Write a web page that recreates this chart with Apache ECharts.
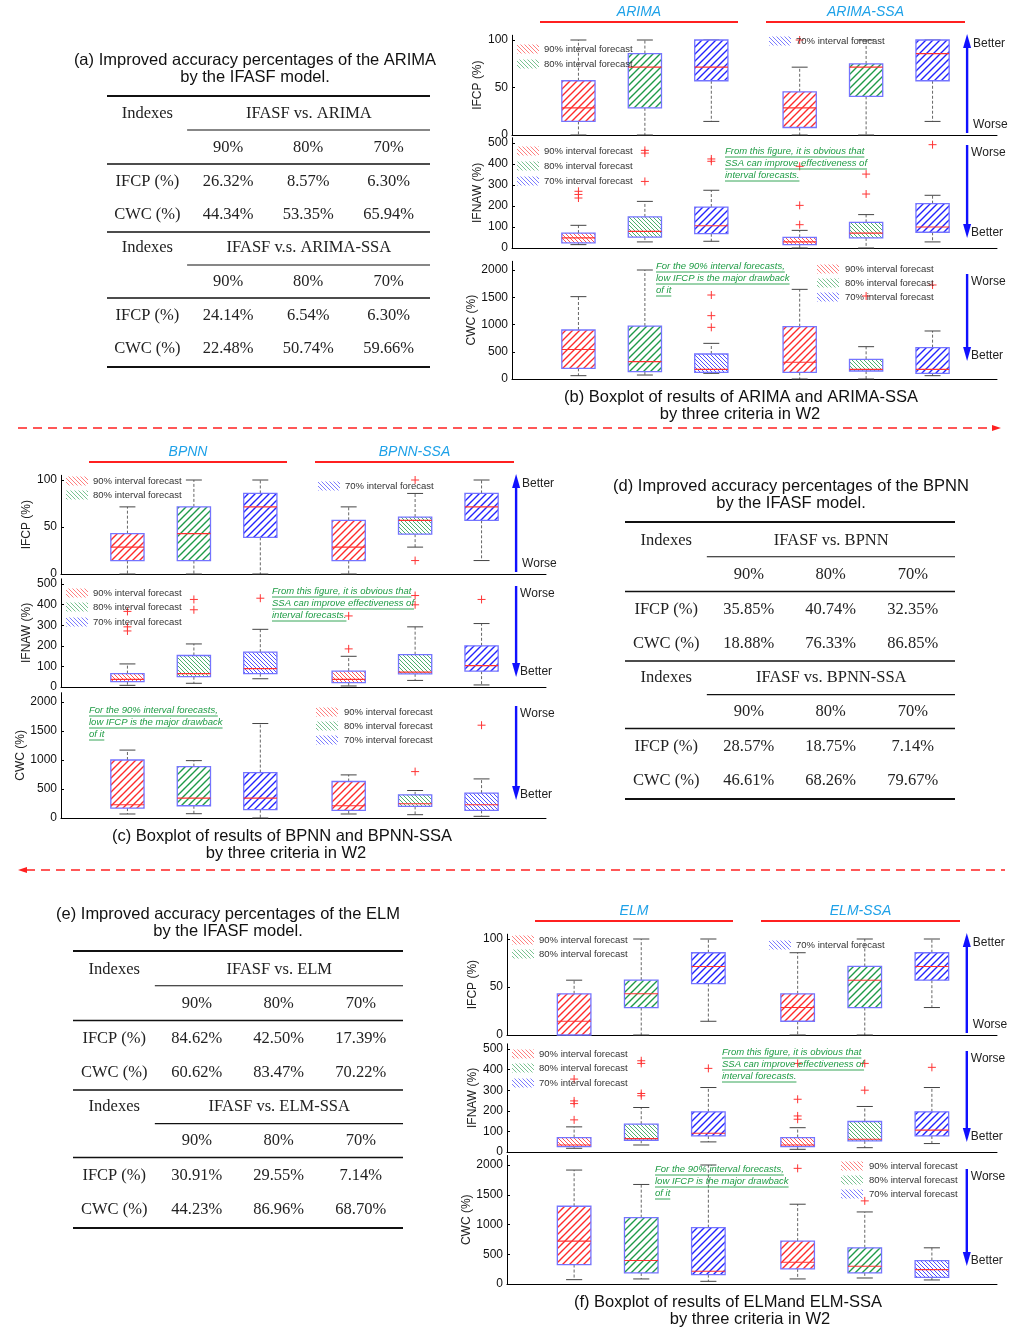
<!DOCTYPE html>
<html><head><meta charset="utf-8">
<script src="https://cdn.jsdelivr.net/npm/echarts@6/dist/echarts.min.js"></script>
<style>html,body{margin:0;padding:0;background:#fff}#c{width:1024px;height:1338px}</style>
</head><body><div id="c"></div><script>
// ================= DATA =================
const levels = ['90%', '80%', '70%'];
const criteria = ['IFCP (%)', 'IFNAW (%)', 'CWC (%)'];
const legendNames = ['90% interval forecast', '80% interval forecast', '70% interval forecast'];
// box rows: [min, Q1, median, Q3, max]; order: model 90/80/70, model-SSA 90/80/70
// outliers: [boxIndex, value]
const arimaIFCP = [[0,14.3,28.6,57.1,100],[0,28.6,71.4,85.7,100],[14.3,57.1,71.4,100,100],[0,7.9,28.6,45.5,71.4],[0,40.7,71.4,74.8,100],[14.3,57.1,85.7,100,100]];
const arimaIFCPOut = [[3,100]];
const arimaIFNAW = [[16,24,48,71,108],[29,52,79,148,222],[32,68,106,195,275],[0,16,29,51,84],[0,48,71,122,159],[29,75,100,211,251]];
const arimaIFNAWOut = [[0,238],[0,255],[0,270],[1,317],[1,452],[1,465],[2,413],[2,424],[3,111],[3,203],[3,389],[4,257],[4,352],[5,492]];
const arimaCWC = [[61,196,540,899,1511],[73,135,318,972,2000],[104,122,177,459,654],[0,122,306,960,1645],[0,147,177,361,593],[61,104,177,575,881]];
const arimaCWCOut = [[2,948],[2,1162],[2,1541],[4,1523],[5,1725]];

const bpnnIFCP = [[0,14.3,28.6,42.9,71.4],[0,14.3,42.9,71.4,100],[0,39,71.4,85.7,100],[0,14.3,28.6,57.1,71.4],[28.6,42.4,57.1,60.6,85.7],[14.3,57.1,71.4,85.7,100]];
const bpnnIFCPOut = [[4,14.3],[4,100]];
const bpnnIFNAW = [[8,26,37,65,112],[18,50,65,153,209],[40,65,89,169,280],[5,21,37,77,149],[32,64,72,157,292],[10,77,104,200,308]];
const bpnnIFNAWOut = [[0,272],[0,292],[0,367],[1,375],[1,425],[2,431],[3,185],[3,345],[4,399],[4,444],[5,425]];
const bpnnCWC = [[69,171,229,1000,1171],[74,211,343,886,989],[0,143,343,783,1629],[69,131,211,629,743],[57,200,246,400,474],[29,131,229,429,674]];
const bpnnCWCOut = [[4,800],[5,1600]];

const elmIFCP = [[0,0,14.3,42.9,57.1],[0,28.6,42.9,57.1,100],[14.3,53.6,71.4,85.7,100],[0,14.3,28.6,42.9,85.7],[0,28.6,57.1,71.4,100],[28.6,57.1,71.4,85.7,100]];
const elmIFCPOut = [];
const elmIFNAW = [[18,26,34,70,122],[34,57,65,135,216],[49,78,91,195,313],[13,26,34,70,118],[21,54,62,148,221],[41,78,106,195,313]];
const elmIFNAWOut = [[0,156],[0,235],[0,248],[0,354],[1,273],[1,284],[1,430],[1,443],[2,406],[3,159],[3,175],[3,256],[3,430],[4,300],[4,430],[5,411]];
const elmCWC = [[73,327,721,1307,1915],[85,186,394,1115,1673],[45,158,214,946,2000],[85,254,366,721,1341],[101,186,299,608,1211],[68,113,242,394,608]];
const elmCWCOut = [[3,1944],[4,1397]];

// tables
const tableATitle = ['(a) Improved accuracy percentages of the ARIMA', 'by the IFASF model.'];
const tableAHeads = ['IFASF vs. ARIMA', 'IFASF v.s. ARIMA-SSA'];
const tableAIFCP = [['26.32%','8.57%','6.30%'],['24.14%','6.54%','6.30%']];
const tableACWC = [['44.34%','53.35%','65.94%'],['22.48%','50.74%','59.66%']];
const tableDTitle = ['(d) Improved accuracy percentages of the BPNN', 'by the IFASF model.'];
const tableDHeads = ['IFASF vs. BPNN', 'IFASF vs. BPNN-SSA'];
const tableDIFCP = [['35.85%','40.74%','32.35%'],['28.57%','18.75%','7.14%']];
const tableDCWC = [['18.88%','76.33%','86.85%'],['46.61%','68.26%','79.67%']];
const tableETitle = ['(e) Improved accuracy percentages of the ELM', 'by the IFASF model.'];
const tableEHeads = ['IFASF vs. ELM', 'IFASF vs. ELM-SSA'];
const tableEIFCP = [['84.62%','42.50%','17.39%'],['30.91%','29.55%','7.14%']];
const tableECWC = [['60.62%','83.47%','70.22%'],['44.23%','86.96%','68.70%']];

const captionB = ['(b) Boxplot of results of ARIMA and ARIMA-SSA', 'by three criteria in W2'];
const captionC = ['(c) Boxplot of results of BPNN and BPNN-SSA', 'by three criteria in W2'];
const captionF = ['(f) Boxplot of results of ELMand ELM-SSA', 'by three criteria in W2'];
const ann1Text = ['From this figure, it is obvious that', 'SSA can improve effectiveness of', 'interval forecasts.'];
const ann2Text = ['For the 90% interval forecasts,', 'low IFCP is the major drawback', 'of it'];

// ================= LAYOUT / STYLE =================
const boxPos = [1, 2, 3, 4.33, 5.33, 6.33];
const X_MAX = 7.3, BOX_W = 0.5, CAP_W = 0.24;
const SANS = '"Liberation Sans", Arial, sans-serif';
const SERIF = '"Liberation Serif", "Times New Roman", serif';
const stripeColors = ['#ff2a2a', '#1e9a48', '#2323ff'];
const critSpec = [
  {tick: 100, max: 105, interval: 50, gap: 25},
  {tick: 500, max: 525, interval: 100, gap: 28},
  {tick: 2000, max: 2160, interval: 500, gap: 33}
];

function makePattern(color, period, lw, dir) {
  const c = document.createElement('canvas');
  c.width = period; c.height = period;
  const g = c.getContext('2d');
  g.fillStyle = '#fff'; g.fillRect(0, 0, period, period);
  g.strokeStyle = color; g.lineWidth = lw;
  g.beginPath();
  if (dir > 0) {
    g.moveTo(-1, period + 1); g.lineTo(period + 1, -1);
    g.moveTo(-1, 1); g.lineTo(1, -1);
    g.moveTo(period - 1, period + 1); g.lineTo(period + 1, period - 1);
  } else {
    g.moveTo(-1, -1); g.lineTo(period + 1, period + 1);
    g.moveTo(period - 1, -1); g.lineTo(period + 1, 1);
    g.moveTo(-1, period - 1); g.lineTo(1, period + 1);
  }
  g.stroke();
  return c;
}
const patterns = stripeColors.map(c => makePattern(c, 7, 1.4, 1));
const densePatterns = stripeColors.map(c => makePattern(c, 4, 0.8, -1));
const pat = img => ({image: img, repeat: 'repeat'});

function renderBox(params, api) {
  const x = api.value(0);
  const ci = api.value(6);
  const pMin = api.coord([x, api.value(1)]);
  const pQ1 = api.coord([x, api.value(2)]);
  const pMed = api.coord([x, api.value(3)]);
  const pQ3 = api.coord([x, api.value(4)]);
  const pMax = api.coord([x, api.value(5)]);
  const hw = api.size([BOX_W, 0])[0] / 2, cw = api.size([CAP_W, 0])[0] / 2;
  const cx = pMin[0];
  const bh = pQ1[1] - pQ3[1];
  const p = bh < 24 ? densePatterns[ci] : patterns[ci];
  const dash = {stroke: '#555', lineWidth: 0.9, lineDash: [3, 2]};
  const solid = {stroke: '#444', lineWidth: 1};
  return {type: 'group', children: [
    {type: 'line', shape: {x1: cx, y1: pQ3[1], x2: cx, y2: pMax[1]}, style: dash},
    {type: 'line', shape: {x1: cx, y1: pQ1[1], x2: cx, y2: pMin[1]}, style: dash},
    {type: 'line', shape: {x1: cx - cw, y1: pMax[1], x2: cx + cw, y2: pMax[1]}, style: solid},
    {type: 'line', shape: {x1: cx - cw, y1: pMin[1], x2: cx + cw, y2: pMin[1]}, style: solid},
    {type: 'rect', shape: {x: cx - hw, y: pQ3[1], width: 2 * hw, height: bh},
      style: {fill: pat(p), stroke: '#7474ff', lineWidth: 1.3}},
    {type: 'line', shape: {x1: cx - hw, y1: pMed[1], x2: cx + hw, y2: pMed[1]}, style: {stroke: '#ff3030', lineWidth: 1.1}}
  ]};
}
function renderPlus(params, api) {
  const p = api.coord([api.value(0), api.value(1)]);
  const s = 4;
  const st = {stroke: '#ff3535', lineWidth: 1};
  return {type: 'group', children: [
    {type: 'line', shape: {x1: p[0] - s, y1: p[1], x2: p[0] + s, y2: p[1]}, style: st},
    {type: 'line', shape: {x1: p[0], y1: p[1] - s, x2: p[0], y2: p[1] + s}, style: st}
  ]};
}

const panels = [
  {models: ['ARIMA', 'ARIMA-SSA'], left: 512, width: 485, rows: [[40,135],[143,248],[270,379]],
   data: [arimaIFCP, arimaIFNAW, arimaCWC], outs: [arimaIFCPOut, arimaIFNAWOut, arimaCWCOut],
   caption: captionB, capX: [741, 740],
   leg1Rows: [49, 64], leg70: {xo: 257, y: 41}, leg2Rows: [151, 166, 181],
   ann1: {xo: 213, rows: [151, 163, 175]}, ann2: {xo: 144, rows: [266, 278, 290]},
   leg3: {xo: 305, rows: [269, 283, 297]}},
  {models: ['BPNN', 'BPNN-SSA'], left: 61, width: 485, rows: [[480,574],[584,687],[702,818]],
   data: [bpnnIFCP, bpnnIFNAW, bpnnCWC], outs: [bpnnIFCPOut, bpnnIFNAWOut, bpnnCWCOut],
   caption: captionC, capX: [282, 286],
   leg1Rows: [481, 495], leg70: {xo: 257, y: 486}, leg2Rows: [593, 607, 622],
   ann1: {xo: 211, rows: [591, 603, 615]}, ann2: {xo: 28, rows: [710, 722, 734]},
   leg3: {xo: 255, rows: [712, 726, 740]}},
  {models: ['ELM', 'ELM-SSA'], left: 507, width: 490, rows: [[939,1035],[1049,1152],[1165,1284]],
   data: [elmIFCP, elmIFNAW, elmCWC], outs: [elmIFCPOut, elmIFNAWOut, elmCWCOut],
   caption: captionF, capX: [728, 750],
   leg1Rows: [940, 954], leg70: {xo: 262, y: 945}, leg2Rows: [1054, 1068, 1083],
   ann1: {xo: 215, rows: [1052, 1064, 1076]}, ann2: {xo: 148, rows: [1169, 1181, 1193]},
   leg3: {xo: 334, rows: [1166, 1180, 1194]}}
];

const grids = [], xAxes = [], yAxes = [], series = [], gfx = [];
const mctx = document.createElement('canvas').getContext('2d');
function textW(t, font) { mctx.font = font; return mctx.measureText(t).width; }
function txt(x, y, t, font, fill, align) {
  gfx.push({type: 'text', x: x, y: y, z: 50, silent: true,
    style: {text: t, font: font, fill: fill || '#222', textAlign: align || 'left', align: align || 'left',
      textVerticalAlign: 'middle', verticalAlign: 'middle'}});
}
function hline(x1, x2, y, color, w, dash) {
  gfx.push({type: 'line', z: 40, silent: true, shape: {x1: x1, y1: y, x2: x2, y2: y},
    style: {stroke: color, lineWidth: w, lineDash: dash || null}});
}
function vArrow(x, yFrom, yTip) {
  const dir = yTip < yFrom ? -1 : 1;
  gfx.push({type: 'line', z: 40, silent: true, shape: {x1: x, y1: yFrom, x2: x, y2: yTip - dir * 12},
    style: {stroke: '#1010ff', lineWidth: 2.4}});
  gfx.push({type: 'polygon', z: 40, silent: true,
    shape: {points: [[x - 4, yTip - dir * 14], [x + 4, yTip - dir * 14], [x, yTip]]}, style: {fill: '#1010ff'}});
}
function swatch(x, y, ci) {
  gfx.push({type: 'rect', z: 40, silent: true, shape: {x: x, y: y - 4.5, width: 22, height: 9},
    style: {fill: pat(densePatterns[ci]), opacity: 0.75}});
}
function annotation(x, rows, lines) {
  const f = 'italic 9.5px ' + SANS;
  lines.forEach((t, i) => {
    txt(x, rows[i], t, f, '#1f9c45');
    hline(x, x + textW(t, f), rows[i] + 6, '#1f9c45', 0.9);
  });
}

panels.forEach(p => {
  const unit = p.width / X_MAX;
  p.rows.forEach((row, r) => {
    const spec = critSpec[r];
    const yT = row[0], y0 = row[1];
    const h = (y0 - yT) * spec.max / spec.tick;
    const gi = grids.length;
    grids.push({left: p.left, top: y0 - h, width: p.width, height: h, containLabel: false, outerBoundsMode: 'none'});
    xAxes.push({gridIndex: gi, type: 'value', min: 0, max: X_MAX,
      axisLine: {show: true, onZero: false, lineStyle: {color: '#000', width: 1}},
      axisTick: {show: false}, axisLabel: {show: false}, splitLine: {show: false}});
    yAxes.push({gridIndex: gi, type: 'value', min: 0, max: spec.max, interval: spec.interval,
      name: criteria[r], nameLocation: 'middle', nameGap: spec.gap, nameRotate: 90,
      nameTextStyle: {fontSize: 12, fontFamily: SANS, color: '#222'},
      axisLine: {show: true, lineStyle: {color: '#000', width: 1}},
      axisTick: {show: true, inside: true, length: 3, lineStyle: {color: '#000'}},
      axisLabel: {fontSize: 12, fontFamily: SANS, color: '#111', margin: 4, showMaxLabel: false,
        formatter: v => (v % spec.interval === 0 ? String(v) : '')},
      splitLine: {show: false}});
    series.push({type: 'custom', xAxisIndex: gi, yAxisIndex: gi, renderItem: renderBox, silent: true, z: 2,
      encode: {x: 0, y: [1, 2, 3, 4, 5]},
      data: p.data[r].map((v, i) => [boxPos[i], v[0], v[1], v[2], v[3], v[4], i % 3])});
    series.push({type: 'custom', xAxisIndex: gi, yAxisIndex: gi, renderItem: renderPlus, silent: true, z: 3,
      encode: {x: 0, y: 1},
      data: p.outs[r].map(o => [boxPos[o[0]], o[1]])});
  });
  const L = p.left;
  const ax = L + 6.85 * unit;
  // model titles
  const yT0 = p.rows[0][0];
  [[28, 226], [254, 453]].forEach((seg, k) => {
    hline(L + seg[0], L + seg[1], yT0 - 18, '#ff2020', 2);
    txt(L + (seg[0] + seg[1]) / 2, yT0 - 28, p.models[k], 'italic 14px ' + SANS, '#1ea1e8', 'center');
  });
  // arrows & labels
  const [r0, r1, r2] = p.rows;
  const bw = '12px ' + SANS;
  vArrow(ax, r0[1] - 2, r0[0] - 6);
  txt(ax + 6, r0[0] + 4, 'Better', bw); txt(ax + 6, r0[1] - 10, 'Worse', bw);
  vArrow(ax, r1[0] + 2, r1[1] - 10);
  txt(ax + 4, r1[0] + 10, 'Worse', bw); txt(ax + 4, r1[1] - 15, 'Better', bw);
  vArrow(ax, r2[0] + 4, r2[1] - 18);
  txt(ax + 4, r2[0] + 12, 'Worse', bw); txt(ax + 4, r2[1] - 23, 'Better', bw);
  // legends
  const lf = '9.5px ' + SANS;
  p.leg1Rows.forEach((y, i) => { swatch(L + 5, y, i); txt(L + 32, y, legendNames[i], lf, '#333'); });
  swatch(L + p.leg70.xo, p.leg70.y, 2); txt(L + p.leg70.xo + 27, p.leg70.y, legendNames[2], lf, '#333');
  p.leg2Rows.forEach((y, i) => { swatch(L + 5, y, i); txt(L + 32, y, legendNames[i], lf, '#333'); });
  p.leg3.rows.forEach((y, i) => { swatch(L + p.leg3.xo, y, i); txt(L + p.leg3.xo + 28, y, legendNames[i], lf, '#333'); });
  annotation(L + p.ann1.xo, p.ann1.rows, ann1Text);
  annotation(L + p.ann2.xo, p.ann2.rows, ann2Text);
  // caption
  txt(p.capX[0], r2[1] + 18, p.caption[0], '16.5px ' + SANS, '#111', 'center');
  txt(p.capX[1], r2[1] + 35, p.caption[1], '16.5px ' + SANS, '#111', 'center');
});

// tables
function table(title, titleX, titleY, left, width, top, scale, heads, ifcp, cwc) {
  txt(titleX, titleY, title[0], '16.5px ' + SANS, '#111', 'center');
  txt(titleX, titleY + 17, title[1], '16.5px ' + SANS, '#111', 'center');
  const oy = v => top + v * scale;
  const xi = left + 0.125 * width, xp = left + 0.248 * width, xh = left + 0.625 * width;
  const xc = [0.375, 0.623, 0.872].map(f => left + f * width);
  const R = left + width;
  hline(left, R, oy(0), '#111', 2);
  hline(xp, R, oy(34), '#111', 1.2);
  hline(left, R, oy(68), '#111', 1.4);
  hline(left, R, oy(136), '#111', 1.4);
  hline(xp, R, oy(169), '#111', 1.2);
  hline(left, R, oy(202), '#111', 1.4);
  hline(left, R, oy(271), '#111', 2);
  const f = '16.5px ' + SERIF;
  [0, 1].forEach(k => {
    const b = k * 134;
    txt(xi, oy(18 + b), 'Indexes', f, '#222', 'center');
    txt(xh, oy(18 + b), heads[k], f, '#222', 'center');
    levels.forEach((lv, j) => txt(xc[j], oy(52 + b), lv, f, '#222', 'center'));
    txt(xi, oy(86 + b), 'IFCP (%)', f, '#222', 'center');
    txt(xi, oy(119 + b), 'CWC (%)', f, '#222', 'center');
    ifcp[k].forEach((v, j) => txt(xc[j], oy(86 + b), v, f, '#222', 'center'));
    cwc[k].forEach((v, j) => txt(xc[j], oy(119 + b), v, f, '#222', 'center'));
  });
}
table(tableATitle, 255, 60, 107, 323, 96, 1.0, tableAHeads, tableAIFCP, tableACWC);
table(tableDTitle, 791, 486, 625, 330, 522, 1.022, tableDHeads, tableDIFCP, tableDCWC);
table(tableETitle, 228, 914, 73, 330, 951, 1.022, tableEHeads, tableEIFCP, tableECWC);

// separators
hline(18, 994, 428, '#ff2020', 1.5, [9, 6]);
gfx.push({type: 'polygon', z: 40, silent: true, shape: {points: [[992, 425], [1001, 428], [992, 431]]}, style: {fill: '#ff2020'}});
hline(26, 1005, 870, '#ff2020', 1.5, [9, 6]);
gfx.push({type: 'polygon', z: 40, silent: true, shape: {points: [[27, 867], [18, 870], [27, 873]]}, style: {fill: '#ff2020'}});

const chart = echarts.init(document.getElementById('c'), null, {renderer: 'canvas', width: 1024, height: 1338});
chart.setOption({
  backgroundColor: '#fff', animation: false,
  grid: grids, xAxis: xAxes, yAxis: yAxes, series: series, graphic: {elements: gfx}
});
</script></body></html>
